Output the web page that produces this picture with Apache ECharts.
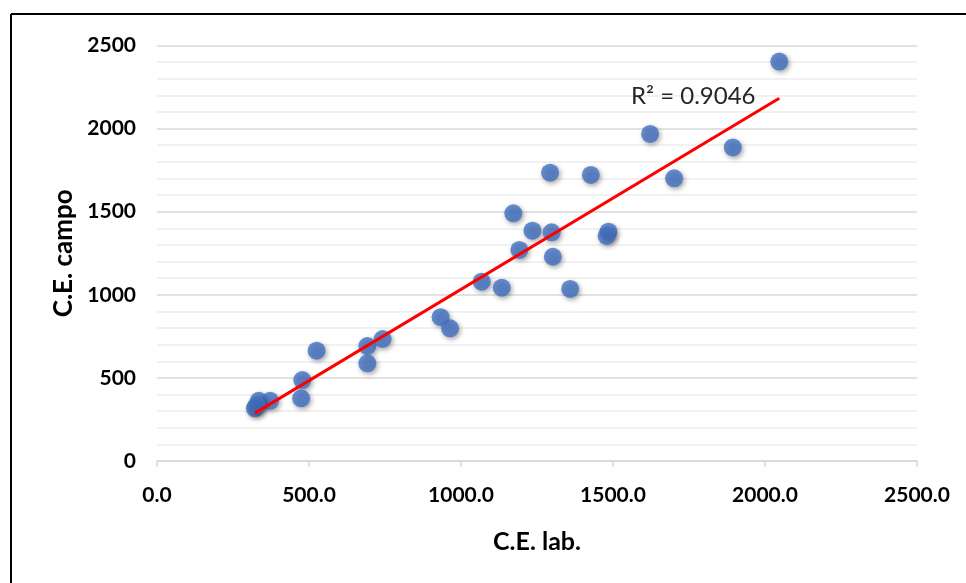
<!DOCTYPE html>
<html><head><meta charset="utf-8">
<script src="https://cdn.jsdelivr.net/npm/echarts@6/dist/echarts.min.js"></script>
<style>html,body{margin:0;padding:0;background:#fff}#c{width:966px;height:583px}</style>
</head><body><div id="c"></div>
<script>
const ceLab   = [2047,1622,1894,1701,1293,1427,1172,1235,1298,1192,1302,1485,1479,1068,1134,1359,933,964,525,692,742,692,478,474,322,335,372,328];
const ceCampo = [2403,1968,1887,1701,1735,1721,1490,1386,1376,1270,1229,1380,1354,1079,1043,1035,865,798,664,692,734,588,487,377,317,362,362,335];
const xTicks = [0,500,1000,1500,2000,2500];
const yTicks = [0,500,1000,1500,2000,2500];
const r2Label = 'R² = 0.9046';

// least squares fit
const n = ceLab.length;
let sx=0,sy=0,sxx=0,sxy=0;
for(let i=0;i<n;i++){sx+=ceLab[i];sy+=ceCampo[i];sxx+=ceLab[i]*ceLab[i];sxy+=ceLab[i]*ceCampo[i];}
const slope=(n*sxy-sx*sy)/(n*sxx-sx*sx);
const icpt=(sy-slope*sx)/n;
const xmin=Math.min(...ceLab), xmax=Math.max(...ceLab);
const trend=[[xmin,icpt+slope*xmin],[xmax,icpt+slope*xmax]];

const chart = echarts.init(document.getElementById('c'));
const font = 'Lato, "Open Sans", sans-serif';
chart.setOption({
  animation:false,
  grid:{left:157,right:49,top:45.5,bottom:122,containLabel:false},
  xAxis:{type:'value',min:xTicks[0],max:xTicks[xTicks.length-1],interval:500,
    name:'C.E. lab.',nameLocation:'middle',nameGap:68,
    nameTextStyle:{fontFamily:font,fontWeight:'bold',fontSize:25,color:'#000'},
    axisLine:{show:true,lineStyle:{color:'#d9d9d9',width:1.5}},
    axisTick:{show:true,length:6,lineStyle:{color:'#d9d9d9',width:1.5}},
    splitLine:{show:false},
    axisLabel:{margin:24,fontFamily:font,fontWeight:'bold',fontSize:21,color:'#000',formatter:v=>v.toFixed(1)}},
  yAxis:{type:'value',min:yTicks[0],max:yTicks[yTicks.length-1],interval:500,
    name:'C.E. campo',nameLocation:'middle',nameGap:80,nameRotate:90,
    nameTextStyle:{fontFamily:font,fontWeight:'bold',fontSize:26,color:'#000'},
    axisLine:{show:false},axisTick:{show:false},
    axisLabel:{margin:21,fontFamily:font,fontWeight:'bold',fontSize:21,color:'#000',formatter:v=>String(v)},
    splitLine:{show:true,lineStyle:{color:'#d9d9d9',width:1.5}},
    minorTick:{show:false,splitNumber:5},
    minorSplitLine:{show:true,lineStyle:{color:'#ededed',width:1.5}}},
  series:[
    {type:'scatter',data:ceLab.map((x,i)=>[x,ceCampo[i]]),symbolSize:18,z:3,
     itemStyle:{color:'#4472C4',shadowColor:'rgba(0,0,0,0.45)',shadowBlur:5,shadowOffsetX:1.5,shadowOffsetY:2}},
    {type:'line',data:trend,symbol:'none',z:4,lineStyle:{color:'#FF0000',width:3}}
  ],
  graphic:[
    {type:'text',left:631,top:84,z:10,style:{text:r2Label,fontFamily:font,fontSize:24,fill:'#262626'}},
    {type:'line',shape:{x1:11,y1:14,x2:966,y2:14},style:{stroke:'#000',lineWidth:2}},
    {type:'line',shape:{x1:11,y1:14,x2:11,y2:583},style:{stroke:'#000',lineWidth:2}}
  ]
});
</script></body></html>
